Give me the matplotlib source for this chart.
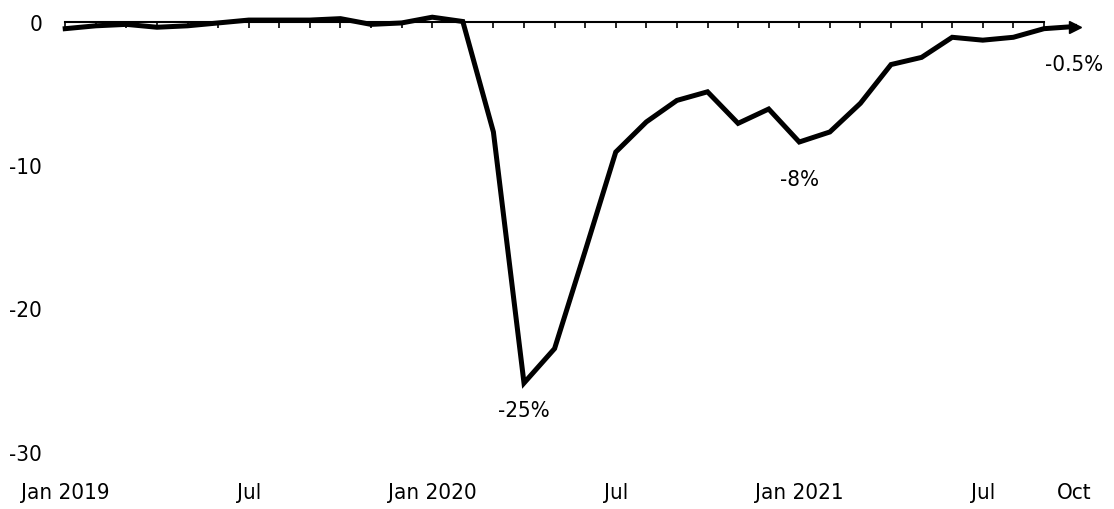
import matplotlib.pyplot as plt

# monthly values, Jan 2019 .. Oct 2021 (% change)
months = ['Jan 2019', 'Feb', 'Mar', 'Apr', 'May', 'Jun', 'Jul', 'Aug', 'Sep', 'Oct', 'Nov', 'Dec',
          'Jan 2020', 'Feb', 'Mar', 'Apr', 'May', 'Jun', 'Jul', 'Aug', 'Sep', 'Oct', 'Nov', 'Dec',
          'Jan 2021', 'Feb', 'Mar', 'Apr', 'May', 'Jun', 'Jul', 'Aug', 'Sep', 'Oct']
values = [-0.5, -0.3, -0.2, -0.4, -0.3, -0.1, 0.1, 0.1, 0.1, 0.2, -0.2, -0.1,
          0.3, 0.0, -7.7, -25.2, -22.8, -16.0, -9.1, -7.0, -5.5, -4.9, -7.1, -6.1,
          -8.4, -7.7, -5.7, -3.0, -2.5, -1.1, -1.3, -1.1, -0.5, -0.35]

tick_idx = [0, 6, 12, 18, 24, 30, 33]
tick_labels = ['Jan 2019', 'Jul', 'Jan 2020', 'Jul', 'Jan 2021', 'Jul', 'Oct']
y_ticks = [0, -10, -20, -30]

# callouts: (index, label, offset below the point)
callouts = [(15, '-25%', 1.9), (24, '-8%', 2.6), (33, '-0.5%', 2.6)]

plt.rcParams['font.family'] = ['DejaVu Sans']
plt.rcParams['font.stretch'] = 'condensed'
fs = 16

fig = plt.figure(figsize=(11.14, 5.10), dpi=100)
ax = fig.add_axes([0.0503, 0.112, 0.928, 0.872])

x = list(range(len(values)))

# zero line with monthly ticks underneath
ax.plot([0, 32], [0, 0], color='black', lw=1.5, zorder=1)
ax.vlines(x[:33], -0.45, 0, color='black', lw=1.2, zorder=1)

ax.plot(x, values, color='black', lw=3.6, solid_joinstyle='miter', zorder=3)
ax.plot(x[-1], values[-1], marker='>', color='black', ms=9, zorder=4)

for i, lab, dy in callouts:
    ax.text(i, values[i] - dy, lab, ha='center', va='center', fontsize=fs)

ax.set_xlim(-0.3, 33.5)
ax.set_ylim(-30, 1.0)
ax.set_xticks(tick_idx)
ax.set_xticklabels(tick_labels)
ax.set_yticks(y_ticks)
ax.set_yticklabels([str(v) for v in y_ticks])
ax.tick_params(axis='both', length=0, labelsize=fs)
ax.tick_params(axis='x', pad=22)
ax.tick_params(axis='y', pad=10)
for s in ax.spines.values():
    s.set_visible(False)

fig.savefig('out.png', dpi=100)
